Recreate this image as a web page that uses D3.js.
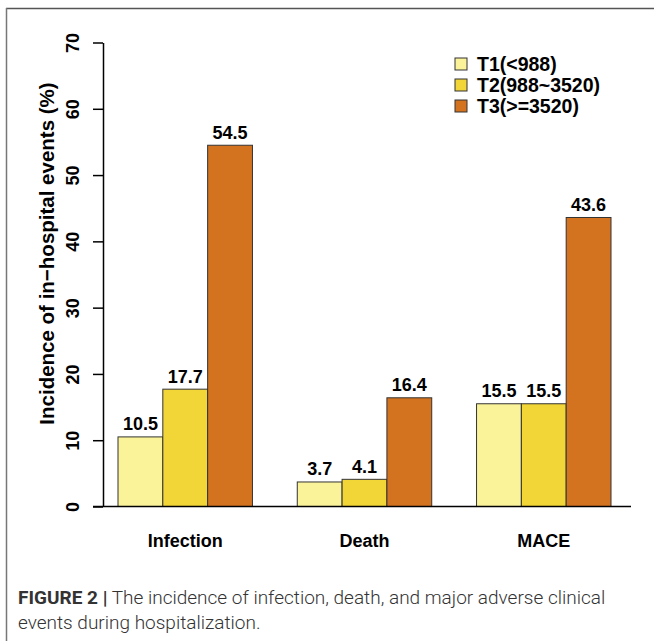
<!DOCTYPE html>
<html>
<head>
<meta charset="utf-8">
<script src="https://cdn.jsdelivr.net/npm/d3@7"></script>
<style>
  html, body { margin: 0; padding: 0; background: #fff; }
  svg { display: block; }
</style>
</head>
<body>
<svg id="chart" width="654" height="641"></svg>
<script>
// ---- data ----
const categories = ["Infection", "Death", "MACE"];
const seriesNames = ["T1(<988)", "T2(988~3520)", "T3(>=3520)"];
const t1Values = [10.5, 3.7, 15.5];
const t2Values = [17.7, 4.1, 15.5];
const t3Values = [54.5, 16.4, 43.6];
const yTickValues = [0, 10, 20, 30, 40, 50, 60, 70];
const seriesColors = ["#FAF39A", "#F2D536", "#D4731F"];
const yTitle = "Incidence of in\u2212hospital events (%)";
const captionBold = "FIGURE 2 |";
const captionLine1 = " The incidence of infection, death, and major adverse clinical";
const captionLine2 = "events during hospitalization.";

const seriesValues = [t1Values, t2Values, t3Values];
const rows = categories.map((c, i) => ({
  category: c,
  values: seriesNames.map((s, j) => ({ series: s, value: seriesValues[j][i], idx: j }))
}));

const svg = d3.select("#chart");
const FONT = "'Liberation Sans', Arial, Helvetica, sans-serif";
const CAPFONT = "Roboto, 'Liberation Sans', Arial, sans-serif";

// frame (top and left lines)
svg.append("line").attr("x1", 6).attr("x2", 654).attr("y1", 8.5).attr("y2", 8.5)
  .attr("stroke", "#555").attr("stroke-width", 1.5);
svg.append("line").attr("x1", 6.5).attr("x2", 6.5).attr("y1", 8).attr("y2", 641)
  .attr("stroke", "#777").attr("stroke-width", 1.5);

// scales
const y = d3.scaleLinear().domain([0, 70]).range([506.5, 42.5]);
const x0 = d3.scaleBand().domain(categories).range([118, 611]).paddingInner(0.25).paddingOuter(0);
const x1 = d3.scaleBand().domain(seriesNames).range([0, x0.bandwidth()]).padding(0);
const color = d3.scaleOrdinal().domain(seriesNames).range(seriesColors);

// bars
const groups = svg.append("g").selectAll("g").data(rows).join("g")
  .attr("transform", d => `translate(${x0(d.category)},0)`);

groups.selectAll("rect").data(d => d.values).join("rect")
  .attr("x", d => x1(d.series))
  .attr("y", d => y(d.value))
  .attr("width", x1.bandwidth())
  .attr("height", d => y(0) - y(d.value))
  .attr("fill", d => color(d.series))
  .attr("stroke", "#333")
  .attr("stroke-width", 1);

groups.selectAll("text").data(d => d.values).join("text")
  .attr("x", d => x1(d.series) + x1.bandwidth() / 2)
  .attr("y", d => y(d.value) - 6.5)
  .attr("text-anchor", "middle")
  .attr("font-family", FONT).attr("font-weight", "bold").attr("font-size", 18)
  .attr("fill", "#000")
  .text(d => d.value.toFixed(1));

// x baseline
svg.append("line").attr("x1", 93).attr("x2", 631).attr("y1", y(0)).attr("y2", y(0))
  .attr("stroke", "#000").attr("stroke-width", 1.5);

// category labels
svg.append("g").selectAll("text").data(categories).join("text")
  .attr("x", d => x0(d) + x0.bandwidth() / 2)
  .attr("y", 547)
  .attr("text-anchor", "middle")
  .attr("font-family", FONT).attr("font-weight", "bold").attr("font-size", 18)
  .text(d => d);

// y axis
const yAxis = svg.append("g").attr("transform", "translate(103,0)")
  .call(d3.axisLeft(y).tickValues(yTickValues).tickSize(10).tickSizeOuter(0).tickFormat(d3.format("d")));
yAxis.select(".domain").attr("stroke", "#000").attr("stroke-width", 1.5);
yAxis.selectAll(".tick line").attr("stroke", "#000").attr("stroke-width", 1.5);
yAxis.selectAll(".tick text")
  .attr("x", 0).attr("y", 0).attr("dy", 0)
  .attr("transform", "translate(-24.5,0) rotate(-90)")
  .attr("text-anchor", "middle")
  .attr("font-family", FONT).attr("font-weight", "bold").attr("font-size", 18)
  .attr("fill", "#000");

// y title
svg.append("text")
  .attr("transform", `translate(54,${(77 + 430) / 2}) rotate(-90)`)
  .attr("text-anchor", "middle")
  .attr("font-family", FONT).attr("font-weight", "bold").attr("font-size", 20.5)
  .text(yTitle);

// legend
const legend = svg.append("g").selectAll("g").data(seriesNames).join("g")
  .attr("transform", (d, i) => `translate(455,${58 + i * 21})`);
legend.append("rect").attr("width", 12).attr("height", 12)
  .attr("fill", d => color(d)).attr("stroke", "#333").attr("stroke-width", 1);
legend.append("text").attr("x", 22).attr("y", 13)
  .attr("font-family", FONT).attr("font-weight", "bold").attr("font-size", 19.5)
  .text(d => d);

// caption
const cap = svg.append("text").attr("x", 18).attr("y", 604)
  .attr("font-family", CAPFONT).attr("font-size", 19).attr("fill", "#333");
cap.append("tspan").attr("font-weight", "bold").text(captionBold);
cap.append("tspan").attr("font-weight", 300).text(captionLine1);
svg.append("text").attr("x", 18).attr("y", 629)
  .attr("font-family", CAPFONT).attr("font-size", 19).attr("font-weight", 300).attr("fill", "#333")
  .text(captionLine2);
</script>
</body>
</html>
